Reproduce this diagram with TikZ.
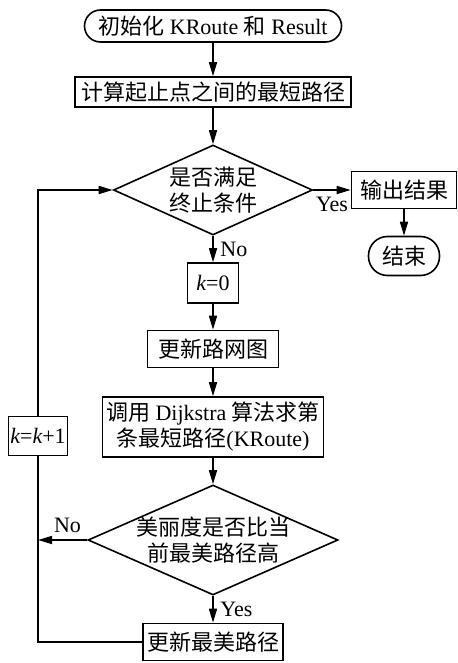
\documentclass[tikz,border=0pt]{standalone}
\usepackage{fontspec}
\setmainfont{Liberation Serif}
\newfontfamily\cjk{Noto Sans CJK SC}
\newcommand{\zh}[1]{{\cjk #1}}
\usetikzlibrary{calc,shapes.geometric,arrows.meta}

\begin{document}
\begin{tikzpicture}[x=0.5pt,y=-0.5pt,>={Triangle[length=7pt,width=4pt]},
  every node/.style={font=\fontsize{11pt}{13pt}\selectfont},
  proc/.style={draw,rectangle,thick,inner sep=1pt,align=center},
  term/.style={draw,rectangle,rounded corners=8pt,thick,inner sep=1pt},
  cond/.style={draw,diamond,thick,inner sep=-3pt,align=center}]
\useasboundingbox (0,0) rectangle (457,663);

\draw node [term,minimum width=128.5pt,minimum height=16pt] (init) at (213,26) {\zh{初始化} KRoute \zh{和} Result};

\draw node [proc,minimum width=138pt,minimum height=15pt] (short) at (213,92) {\zh{计算起止点之间的最短路径}};

\draw node [cond,aspect=2.2,minimum width=99.5pt,minimum height=45pt] (check) at (213,190) {\zh{是否满足}\\\zh{终止条件}};

\draw node [proc,minimum width=52.5pt,minimum height=18.5pt] (output) at (404,190) {\zh{输出结果}};

\draw node [term,minimum width=35.5pt,minimum height=19.5pt,rounded corners=9.5pt] (finish) at (404,256) {\zh{结束}};

\draw node [proc,minimum width=25.5pt,minimum height=20pt] (kzero) at (213,283) {{\itshape k}=0};

\draw node [proc,minimum width=65.5pt,minimum height=18.5pt] (roadnet) at (213,349) {\zh{更新路网图}};

\draw node [proc,minimum width=110.5pt,minimum height=30pt] (dijk) at (213,427) {\zh{调用} Dijkstra \zh{算法求第}\\\zh{条最短路径}(KRoute)};

\draw node [cond,aspect=2.27,minimum width=125pt,minimum height=55pt] (better) at (213,540) {\zh{美丽度是否比当}\\\zh{前最美路径高}};

\draw node [proc,minimum width=70pt,minimum height=18.5pt] (update) at (213,642) {\zh{更新最美路径}};

\draw node [proc,minimum width=29.5pt,minimum height=19.5pt] (kinc) at (38,436) {{\itshape k}={\itshape k}+1};

\draw[->,thick] (init) -- (short);
\draw[->,thick] (short) -- (check);
\draw[->,thick] (check) -- node[below] (yesa) {Yes} (output);
\draw[->,thick] (output) -- (finish);
\draw[->,thick] (check) -- node[right] (noa) {No} (kzero);
\draw[->,thick] (kzero) -- (roadnet);
\draw[->,thick] (roadnet) -- (dijk);
\draw[->,thick] (dijk) -- (better);
\draw[->,thick] (better) -- node[right] (yesb) {Yes} (update);
\draw[->,thick] (better.west) -- node[above,pos=0.4] (nob) {No} (better.west -| kinc);
\draw[thick] (update.west) -| (kinc.south);
\draw[->,thick] (kinc.north) |- (check.west);

\end{tikzpicture}
\end{document}
